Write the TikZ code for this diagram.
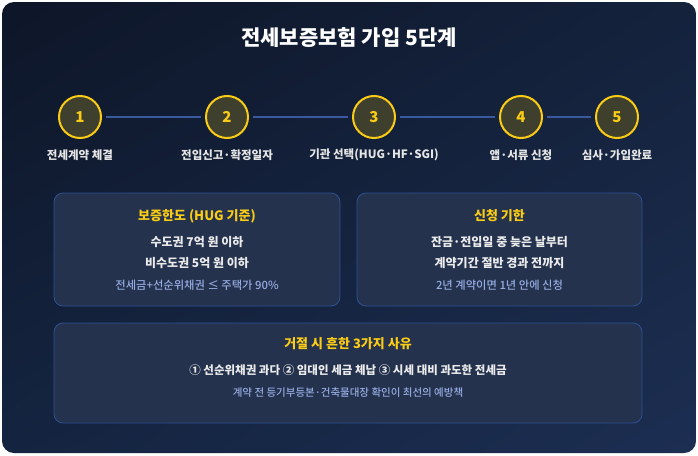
\documentclass[tikz,border=0pt]{standalone}
\usepackage{fontspec}
\setmainfont{Noto Sans CJK KR}
\newfontfamily\medfont{Noto Sans CJK KR Medium}
\usetikzlibrary{positioning,shadings}
\definecolor{bgtl}{RGB}{14,22,40}
\definecolor{bgtr}{RGB}{20,34,60}
\definecolor{bgbl}{RGB}{20,36,64}
\definecolor{bgbr}{RGB}{28,46,82}
\definecolor{gold}{RGB}{250,204,21}
\definecolor{stepfill}{RGB}{63,63,46}
\definecolor{linkc}{RGB}{58,90,160}
\definecolor{boxfill}{RGB}{36,50,78}
\definecolor{boxedge}{RGB}{46,80,148}
\definecolor{notec}{RGB}{150,172,225}

\begin{document}
\begin{tikzpicture}[x=1pt,y=-1pt,
  stepcirc/.style={circle,draw=gold,line width=2pt,fill=stepfill,minimum size=42pt,
    inner sep=0pt,text=gold,font=\bfseries\fontsize{15}{15}\selectfont},
  steplbl/.style={inner sep=0pt,text=white!90!black,font=\bfseries\fontsize{11.5}{13}\selectfont},
  link/.style={draw=linkc,line width=2pt,shorten <=4pt,shorten >=4pt},
  infobox/.style={draw=boxedge,fill=boxfill,rounded corners=9pt,line width=0.8pt,inner sep=0pt},
  boxhead/.style={inner sep=0pt,text=gold,font=\bfseries\fontsize{13}{15}\selectfont},
  boxtxt/.style={inner sep=0pt,text=white!92!black,font=\bfseries\fontsize{12}{14}\selectfont},
  boxnote/.style={inner sep=0pt,text=notec,font=\medfont\fontsize{11.3}{13}\selectfont}]
  % ---- canvas + background ----
  \useasboundingbox (0,0) rectangle (698,455);
  \fill[white] (0,0) rectangle (698,455);
  \shade[rounded corners=12pt,upper left=bgtl,upper right=bgtr,lower left=bgbl,lower right=bgbr]
      (2,2) rectangle (696,453);
  % ---- title ----
  \node[inner sep=0pt,text=white,font=\bfseries\fontsize{21}{24}\selectfont] (title) at (349,38)
      {전세보증보험 가입 5단계};
  % ---- steps ----
  \node[stepcirc] (s1) at (80,117) {1};
  \node[stepcirc] (s2) at (227,117) {2};
  \node[stepcirc] (s3) at (374,117) {3};
  \node[stepcirc] (s4) at (521,117) {4};
  \node[stepcirc] (s5) at (617,117) {5};
  \foreach \a/\b in {s1/s2,s2/s3,s3/s4,s4/s5}
      \draw[link] (\a) -- (\b);
  \node[steplbl] (l1) at (80,155) {전세계약 체결};
  \node[steplbl] (l2) at (227,155) {전입신고·확정일자};
  \node[steplbl] (l3) at (374,155) {기관 선택(HUG·HF·SGI)};
  \node[steplbl] (l4) at (521,155) {앱·서류 신청};
  \node[steplbl] (l5) at (617,155) {심사·가입완료};
  % ---- box: guarantee limit ----
  \node[infobox,minimum width=286pt,minimum height=113pt] (limit) at (197,249.5) {};
  \node[boxhead] (limith) at (197,216) {보증한도 (HUG 기준)};
  \node[boxtxt] at (197,242) {수도권 7억 원 이하};
  \node[boxtxt] at (197,263) {비수도권 5억 원 이하};
  \node[boxnote] at (197,285) {전세금+선순위채권 ≤ 주택가 90\%};
  % ---- box: deadline ----
  \node[infobox,minimum width=285pt,minimum height=113pt] (term) at (499.5,249.5) {};
  \node[boxhead] (termh) at (499.5,216) {신청 기한};
  \node[boxtxt] at (499.5,242) {잔금·전입일 중 늦은 날부터};
  \node[boxtxt] at (499.5,263) {계약기간 절반 경과 전까지};
  \node[boxnote] at (499.5,285) {2년 계약이면 1년 안에 신청};
  % ---- box: refusal reasons ----
  \node[infobox,minimum width=588pt,minimum height=100pt] (deny) at (348,373) {};
  \node[boxhead] (denyh) at (348,344) {거절 시 흔한 3가지 사유};
  \node[boxtxt,font=\bfseries\fontsize{11.5}{13}\selectfont] at (348,370)
      {① 선순위채권 과다 ② 임대인 세금 체납 ③ 시세 대비 과도한 전세금};
  \node[boxnote,font=\medfont\fontsize{10.5}{12}\selectfont] at (348,393)
      {계약 전 등기부등본·건축물대장 확인이 최선의 예방책};
\end{tikzpicture}
\end{document}
